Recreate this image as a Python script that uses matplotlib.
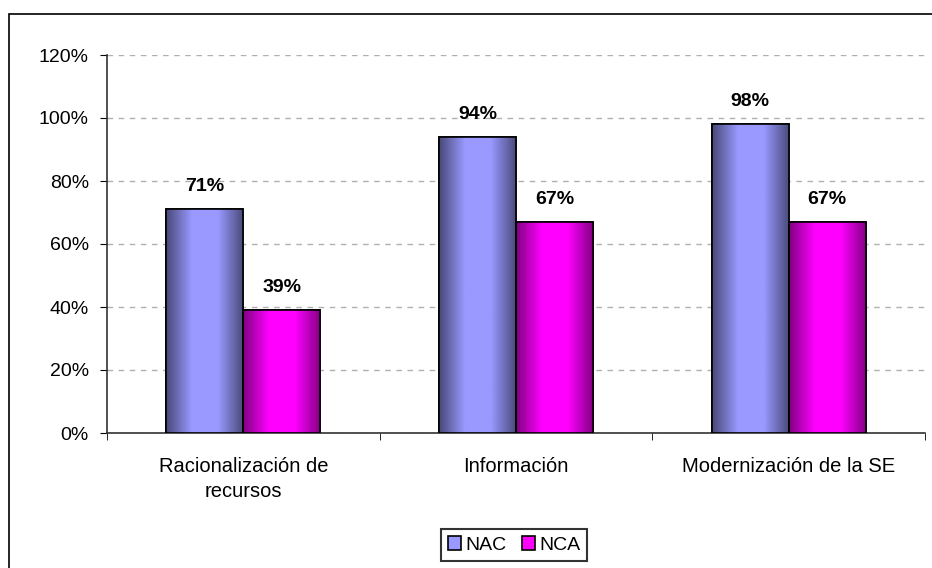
import numpy as np
import matplotlib.pyplot as plt
from matplotlib.patches import Rectangle
from matplotlib.colors import LinearSegmentedColormap

categorias = ["Racionalización de\nrecursos", "Información", "Modernización de la SE"]
nac = [0.71, 0.94, 0.98]
nca = [0.39, 0.67, 0.67]
series = ["NAC", "NCA"]

plt.rcParams['font.family'] = ['Liberation Sans', 'DejaVu Sans']

fig = plt.figure(figsize=(9.32, 5.68), dpi=100)
ax = fig.add_axes([107/932, 1-433/568, 818/932, 378/568])

# marco exterior del gráfico
fig.patches.append(Rectangle((9/932, -0.05), 1.2, 1-14/568+0.05, transform=fig.transFigure,
                             fill=False, edgecolor='black', linewidth=1.2))

x = np.arange(len(categorias))
w = 0.283
cmaps = [LinearSegmentedColormap.from_list("nac", ["#484878", "#9999ff", "#9999ff", "#484878"]),
         LinearSegmentedColormap.from_list("nca", ["#800080", "#ff00ff", "#ff00ff", "#800080"])]
colores = ["#9999ff", "#ff00ff"]

grad = np.linspace(0, 1, 256).reshape(1, -1)
for i, vals in enumerate([nac, nca]):
    pos = x - w/2 + i*w
    barras = ax.bar(pos, vals, w, color=colores[i], edgecolor='black', linewidth=1.2,
                    label=series[i], zorder=3)
    for b, v in zip(barras, vals):
        im = ax.imshow(grad, cmap=cmaps[i], aspect='auto', zorder=3.5,
                       extent=[b.get_x(), b.get_x()+b.get_width(), 0, v])
        im.set_clip_path(b)
        ax.add_patch(Rectangle((b.get_x(), 0), b.get_width(), v, fill=False,
                               edgecolor='black', linewidth=1.2, zorder=4))
        ax.text(b.get_x()+b.get_width()/2, v+0.045, f"{v*100:.0f}%", ha='center',
                va='bottom', fontsize=14, fontweight='bold', zorder=5)

ax.set_xlim(-0.5, 2.5)
ax.set_ylim(0, 1.2)
ax.set_yticks(np.arange(0, 1.21, 0.2))
ax.set_yticklabels([f"{int(round(t*100))}%" for t in np.arange(0, 1.21, 0.2)], fontsize=14)
ax.set_xticks(x)
ax.set_xticklabels(categorias, fontsize=14.5, linespacing=1.4)
ax.tick_params(axis='x', length=0, pad=17)
ax.set_xticks([-0.5, 0.5, 1.5, 2.5], minor=True)
ax.tick_params(axis='x', which='minor', length=5, direction='out')
ax.tick_params(axis='y', length=5, direction='out', pad=8)
ax.yaxis.grid(True, linestyle=(0, (4, 4)), color='#b0b0b0', linewidth=1, zorder=0)
ax.set_axisbelow(True)
for s in ['top', 'right']:
    ax.spines[s].set_visible(False)
for s in ['left', 'bottom']:
    ax.spines[s].set_color('#333333')
    ax.spines[s].set_linewidth(1.2)

leg = ax.legend(loc='center', bbox_to_anchor=(514/932, 1-545/568), bbox_transform=fig.transFigure,
                ncol=2, fontsize=14, frameon=True, fancybox=False, edgecolor='black',
                handlelength=0.7, handleheight=0.7, handletextpad=0.2, columnspacing=0.8,
                borderpad=0.35)
leg.get_frame().set_linewidth(1.5)

fig.savefig("out.png", dpi=100)
